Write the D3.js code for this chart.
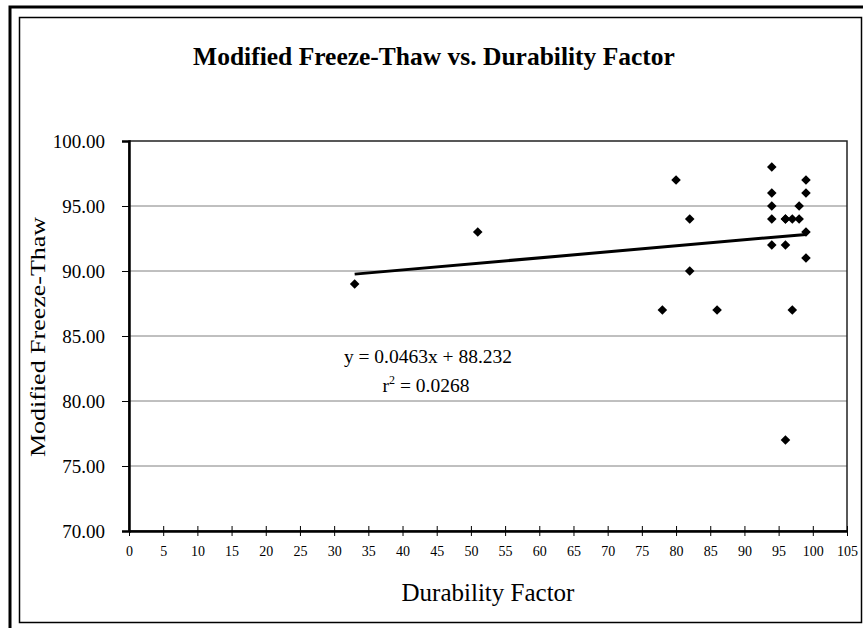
<!DOCTYPE html>
<html>
<head>
<meta charset="utf-8">
<script src="https://cdn.jsdelivr.net/npm/d3@7"></script>
<style>
  body { margin: 0; background: #fff; }
  text { font-family: "Liberation Serif", "Times New Roman", serif; fill: #000; }
</style>
</head>
<body>
<svg id="chart" width="863" height="628"></svg>
<script>
// durability factor (x) and modified freeze-thaw (y)
const durability = [33, 51, 78, 80, 82, 82, 86, 94, 94, 94, 94, 94, 96, 96, 96, 97, 97, 98, 98, 99, 99, 99, 99, 96]
const freezeThaw = [89, 93, 87, 97, 94, 90, 87, 98, 96, 95, 94, 92, 94, 92, 77, 94, 87, 95, 94, 97, 96, 93, 91, 94]

const xTicks = d3.range(0, 106, 5)
const yTicks = [70, 75, 80, 85, 90, 95, 100]

// trendline coefficients as printed on the chart
const slope = 0.0463
const intercept = 88.232

const svg = d3.select('#chart')

const plot = { left: 129, top: 141, right: 847, bottom: 531 }

// page frame and chart area border
svg.append('rect')
  .attr('x', 10).attr('y', 7)
  .attr('width', 900).attr('height', 700)
  .attr('fill', 'none').attr('stroke', '#000').attr('stroke-width', 3)

svg.append('rect')
  .attr('x', 19.5).attr('y', 17.5)
  .attr('width', 842).attr('height', 605)
  .attr('fill', '#fff').attr('stroke', '#000').attr('stroke-width', 1.5)

const x = d3.scaleLinear().domain([0, 105]).range([plot.left, plot.right])
const y = d3.scaleLinear().domain([70, 100]).range([plot.bottom, plot.top])

// horizontal gridlines
svg.append('g')
  .selectAll('line')
  .data(yTicks.slice(1, -1))
  .enter()
  .append('line')
  .attr('x1', plot.left).attr('x2', plot.right)
  .attr('y1', d => y(d)).attr('y2', d => y(d))
  .attr('stroke', '#808080').attr('stroke-width', 1)

// plot area border (top / right)
svg.append('rect')
  .attr('x', plot.left).attr('y', plot.top)
  .attr('width', plot.right - plot.left).attr('height', plot.bottom - plot.top)
  .attr('fill', 'none').attr('stroke', '#222').attr('stroke-width', 1.5)

// x axis
const xAxis = svg.append('g')
  .attr('transform', `translate(0, ${plot.bottom})`)
  .call(d3.axisBottom(x).tickValues(xTicks).tickSize(0).tickPadding(15))
xAxis.select('.domain').attr('stroke', '#000').attr('stroke-width', 2.5)
xAxis.selectAll('.tick line').remove()
xAxis.selectAll('.tick')
  .append('line')
  .attr('y1', -5).attr('y2', 5)
  .attr('stroke', '#000').attr('stroke-width', 1)
xAxis.selectAll('.tick text')
  .style('font-size', '14px')
  .style('font-family', '"Liberation Serif", serif')

// y axis
const yAxis = svg.append('g')
  .attr('transform', `translate(${plot.left}, 0)`)
  .call(d3.axisLeft(y).tickValues(yTicks).tickFormat(d3.format('.2f')).tickSize(7).tickPadding(17))
yAxis.select('.domain').attr('stroke', '#000').attr('stroke-width', 2.5)
yAxis.selectAll('.tick line').attr('stroke', '#000')
yAxis.selectAll('.tick text')
  .style('font-size', '19px')
  .style('font-family', '"Liberation Serif", serif')

// trendline
const xMin = d3.min(durability)
const xMax = d3.max(durability)
svg.append('line')
  .attr('x1', x(xMin)).attr('y1', y(slope * xMin + intercept))
  .attr('x2', x(xMax)).attr('y2', y(slope * xMax + intercept))
  .attr('stroke', '#000').attr('stroke-width', 3)

// points
const diamond = d3.symbol().type(d3.symbolSquare).size(46)
svg.append('g')
  .selectAll('path')
  .data(durability.map((d, i) => [d, freezeThaw[i]]))
  .enter()
  .append('path')
  .attr('d', diamond)
  .attr('transform', d => `translate(${x(d[0])}, ${y(d[1])}) rotate(45)`)
  .attr('fill', '#000')

// equation labels
svg.append('text')
  .attr('x', 428).attr('y', 363)
  .attr('text-anchor', 'middle')
  .style('font-size', '19.5px')
  .text('y = 0.0463x + 88.232')

const r2 = svg.append('text')
  .attr('x', 426).attr('y', 392)
  .attr('text-anchor', 'middle')
  .style('font-size', '19.5px')
r2.append('tspan').text('r')
r2.append('tspan').attr('dy', -8).style('font-size', '12px').text('2')
r2.append('tspan').attr('dy', 8).text(' = 0.0268')

// titles
svg.append('text')
  .attr('x', 434).attr('y', 65)
  .attr('text-anchor', 'middle')
  .style('font-size', '25.5px')
  .style('font-weight', 'bold')
  .text('Modified Freeze-Thaw vs. Durability Factor')

svg.append('text')
  .attr('x', 488).attr('y', 601)
  .attr('text-anchor', 'middle')
  .style('font-size', '25px')
  .text('Durability Factor')

svg.append('text')
  .attr('transform', 'translate(45, 337) rotate(-90)')
  .attr('text-anchor', 'middle')
  .attr('textLength', 240)
  .attr('lengthAdjust', 'spacingAndGlyphs')
  .style('font-size', '21px')
  .text('Modified Freeze-Thaw')
</script>
</body>
</html>
